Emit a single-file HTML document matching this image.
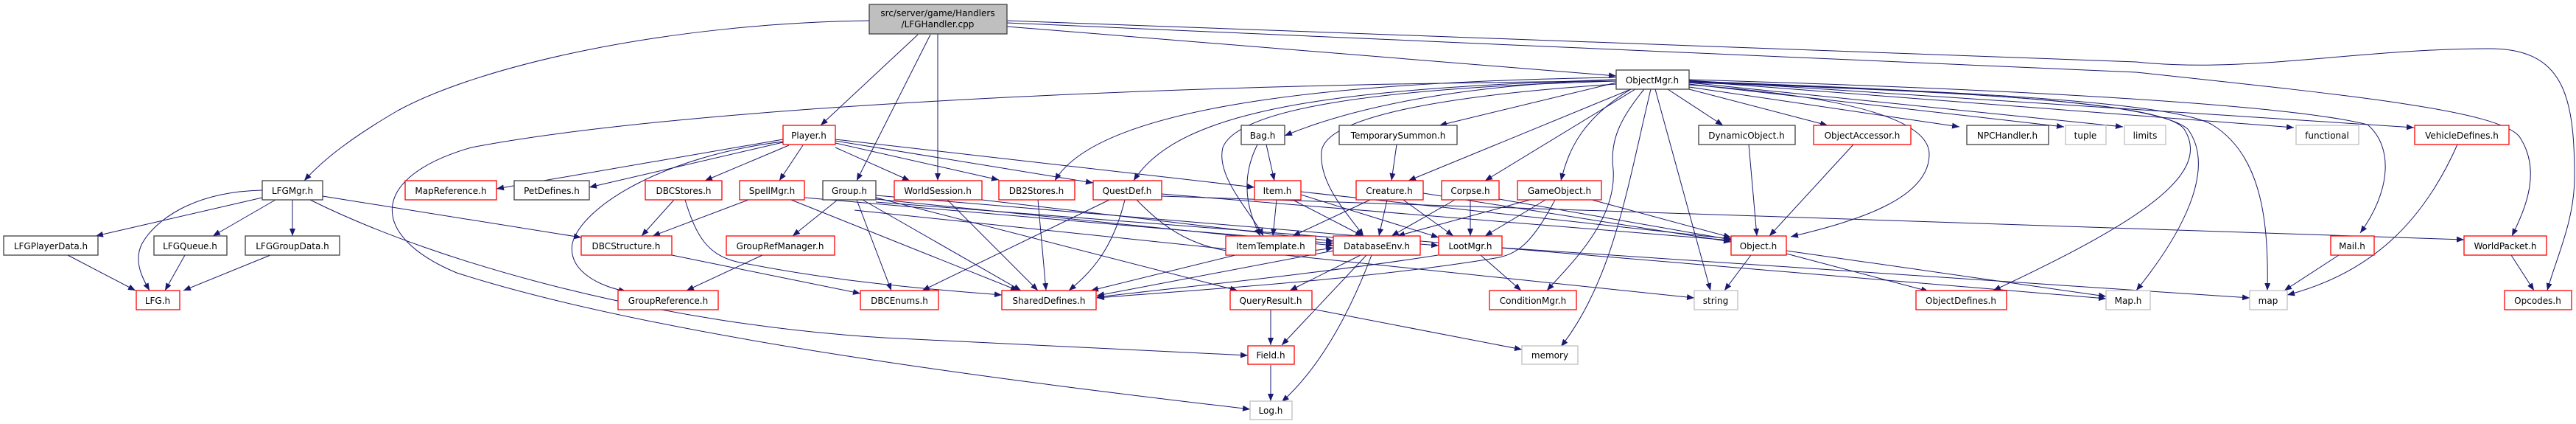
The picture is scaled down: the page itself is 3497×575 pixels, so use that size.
<!DOCTYPE html>
<html><head><meta charset="utf-8"><style>
html,body{margin:0;padding:0;background:#fff;}
svg{display:block;}
text{font-family:"DejaVu Sans","Liberation Sans",sans-serif;font-size:12px;fill:#000;text-anchor:middle;}
.k{fill:#fff;stroke:#404040;stroke-width:1.3;}
.r{fill:#fff;stroke:#ff0000;stroke-width:1.3;}
.g{fill:#fff;stroke:#bfbfbf;stroke-width:1.3;}
.e{fill:none;stroke:#191970;stroke-width:1;marker-end:url(#a);}
</style></head><body>
<svg width="3497" height="575" viewBox="0 0 3497 575" xmlns="http://www.w3.org/2000/svg">
<defs><marker id="a" markerUnits="userSpaceOnUse" markerWidth="11" markerHeight="8" refX="10" refY="4" orient="auto"><path d="M0,0 L10,4 L0,8 z" fill="#191970"/></marker></defs>

<!-- edges -->
<g>
<!-- root -->
<path class="e" d="M1180,28 C900,32 650,90 540,150 C480,185 440,215 413,245"/>
<path class="e" d="M1246,47 L1114,170"/>
<path class="e" d="M1263,47 L1163,245"/>
<path class="e" d="M1273,46 L1273,245"/>
<path class="e" d="M1367,36 L2194,103"/>
<path class="e" d="M1367,31 L2900,98 C3200,130 3390,150 3420,185 C3450,230 3430,280 3410,320"/>
<path class="e" d="M1367,28 L2900,84 C3050,100 3200,66 3380,66 C3480,66 3495,130 3495,240 C3495,300 3470,350 3458,394"/>
<!-- LFGMgr -->
<path class="e" d="M356,268 L130,320"/>
<path class="e" d="M374,271 L289,320"/>
<path class="e" d="M397,271 L397,320"/>
<path class="e" d="M356,258 C260,260 210,300 193,330 C180,355 195,380 203,394"/>
<path class="e" d="M438,266 L789,322"/>
<path class="e" d="M421,271 C600,360 900,440 1200,458 L1694,482"/>
<path class="e" d="M92,346 L184,394"/>
<path class="e" d="M251,346 L224,394"/>
<path class="e" d="M367,346 L249,394"/>
<!-- Player -->
<path class="e" d="M1063,189 L674,256"/>
<path class="e" d="M1063,193 L800,254"/>
<path class="e" d="M1071,197 L957,245"/>
<path class="e" d="M1090,197 L1058,245"/>
<path class="e" d="M1063,192 C900,212 790,280 777,330 C770,370 820,390 850,395"/>
<path class="e" d="M1134,200 L1235,245"/>
<path class="e" d="M1134,194 L1356,244"/>
<path class="e" d="M1134,191 L1484,248"/>
<path class="e" d="M1134,189 L1703,254"/>
<!-- DBCStores / SpellMgr / Group -->
<path class="e" d="M915,271 L871,320"/>
<path class="e" d="M930,271 C945,320 960,345 1000,355 C1100,375 1200,388 1360,400"/>
<path class="e" d="M1016,271 L886,320"/>
<path class="e" d="M1074,271 L1382,394"/>
<path class="e" d="M1092,268 L1810,330"/>
<path class="e" d="M912,346 L1168,398"/>
<path class="e" d="M1035,346 L932,394"/>
<path class="e" d="M1137,271 L1076,320"/>
<path class="e" d="M1163,271 L1210,394"/>
<path class="e" d="M1171,271 L1386,394"/>
<path class="e" d="M1189,268 L1680,394"/>
<path class="e" d="M1189,270 L1810,333"/>
<path class="e" d="M1189,274 L1953,333"/>
<path class="e" d="M1160,285 L2300,404"/>
<path class="e" d="M1189,265 L2859,405"/>
<!-- WorldSession / DB2Stores / QuestDef -->
<path class="e" d="M1286,271 L1409,394"/>
<path class="e" d="M1333,271 L1810,327"/>
<path class="e" d="M1409,271 L1420,394"/>
<path class="e" d="M1506,271 L1252,394"/>
<path class="e" d="M1527,271 C1510,340 1480,370 1451,394"/>
<path class="e" d="M1543,271 C1600,330 1660,360 1810,336"/>
<path class="e" d="M1577,263 L2350,326"/>
<path class="e" d="M1577,266 L3345,325"/>
<!-- Bag/Item/ItemTemplate -->
<path class="e" d="M1719,196 L1730,245"/>
<path class="e" d="M1707,196 C1690,230 1685,270 1711,320"/>
<path class="e" d="M1733,271 L1728,320"/>
<path class="e" d="M1755,271 L1850,320"/>
<path class="e" d="M1766,264 L1953,322"/>
<path class="e" d="M1766,260 L2350,324"/>
<path class="e" d="M1677,346 L1481,394"/>
<!-- DatabaseEnv / LootMgr / QueryResult / Field -->
<path class="e" d="M1847,346 L1751,394"/>
<path class="e" d="M1855,346 L1740,468"/>
<path class="e" d="M1862,346 C1830,430 1790,500 1740,545"/>
<path class="e" d="M1810,340 L1489,401"/>
<path class="e" d="M2010,346 L2065,394"/>
<path class="e" d="M1952,346 C1800,370 1600,390 1489,403"/>
<path class="e" d="M2039,336 L3054,404"/>
<path class="e" d="M1725,420 L1725,468"/>
<path class="e" d="M1781,419 L2066,474"/>
<path class="e" d="M1725,495 L1725,544"/>
<!-- Creature / TS / Corpse / GameObject -->
<path class="e" d="M1896,196 L1889,245"/>
<path class="e" d="M1860,271 L1755,320"/>
<path class="e" d="M1883,271 L1872,320"/>
<path class="e" d="M1905,271 L1973,320"/>
<path class="e" d="M1932,262 L2350,328"/>
<path class="e" d="M1975,271 L1889,320"/>
<path class="e" d="M1996,271 L1996,320"/>
<path class="e" d="M2035,270 L2350,325"/>
<path class="e" d="M2077,271 L1897,320"/>
<path class="e" d="M2098,271 L2016,320"/>
<path class="e" d="M2111,271 C2080,330 2060,345 2030,350 C1850,380 1600,395 1489,404"/>
<path class="e" d="M2161,271 L2350,322"/>
<!-- ObjectMgr -->
<path class="e" d="M2194,108 C2000,115 1850,140 1744,184"/>
<path class="e" d="M2194,112 L1954,170"/>
<path class="e" d="M2214,121 L1912,245"/>
<path class="e" d="M2220,121 L2016,245"/>
<path class="e" d="M2214,121 C2150,160 2130,200 2119,245"/>
<path class="e" d="M2232,121 C2200,160 2185,190 2190,230 C2195,300 2130,360 2100,394"/>
<path class="e" d="M2241,121 C2210,250 2190,380 2119,470"/>
<path class="e" d="M2247,121 L2322,394"/>
<path class="e" d="M2264,121 L2339,170"/>
<path class="e" d="M2293,121 L2481,170"/>
<path class="e" d="M2293,118 L2660,172"/>
<path class="e" d="M2293,114 L2802,172"/>
<path class="e" d="M2293,112 L2882,172"/>
<path class="e" d="M2293,110 L3114,173"/>
<path class="e" d="M2293,109 L3277,173"/>
<path class="e" d="M2293,108 C2700,120 3100,140 3214,169 C3250,200 3245,260 3204,316"/>
<path class="e" d="M2293,110 C2700,125 2950,140 3003,169 C3070,210 3080,300 3078,394"/>
<path class="e" d="M2293,111 C2700,125 2930,140 2970,175 C3010,230 2960,320 2900,394"/>
<path class="e" d="M2293,112 C2700,125 2940,140 2965,175 C3000,230 2930,290 2706,394"/>
<path class="e" d="M2293,115 C2500,130 2620,160 2619,210 C2618,270 2520,300 2431,321"/>
<path class="e" d="M2194,105 C1900,110 1500,130 1432,245"/>
<path class="e" d="M2194,108 C1800,120 1600,150 1539,245"/>
<path class="e" d="M2194,110 C1850,120 1680,150 1660,200 C1650,240 1700,290 1715,320"/>
<path class="e" d="M2194,114 C1950,130 1800,160 1794,205 C1790,250 1830,290 1851,320"/>
<path class="e" d="M2194,110 C1500,115 900,150 640,200 C500,240 500,320 620,370 C900,460 1400,520 1697,555"/>
<!-- Object side -->
<path class="e" d="M2374,196 L2385,320"/>
<path class="e" d="M2516,196 L2402,320"/>
<path class="e" d="M2377,346 L2341,394"/>
<path class="e" d="M2425,344 L2618,395"/>
<path class="e" d="M2425,340 L2859,402"/>
<path class="e" d="M3336,196 C3290,300 3220,370 3105,400"/>
<path class="e" d="M3175,346 L3101,394"/>
<path class="e" d="M3409,346 L3440,394"/>
</g>

<!-- nodes -->
<rect x="1180" y="6" width="187" height="40" fill="#bfbfbf" stroke="#404040" stroke-width="1.3"/>
<text x="1273" y="22">src/server/game/Handlers</text><text x="1273" y="37">/LFGHandler.cpp</text>

<rect class="k" x="2194" y="95" width="99" height="26"/><text x="2243" y="113">ObjectMgr.h</text>

<rect class="r" x="1063" y="170" width="71" height="26"/><text x="1098" y="188">Player.h</text>
<rect class="k" x="1685" y="170" width="59" height="26"/><text x="1714" y="188">Bag.h</text>
<rect class="k" x="1818" y="170" width="160" height="26"/><text x="1898" y="188">TemporarySummon.h</text>
<rect class="k" x="2306" y="170" width="131" height="26"/><text x="2371" y="188">DynamicObject.h</text>
<rect class="r" x="2462" y="170" width="132" height="26"/><text x="2528" y="188">ObjectAccessor.h</text>
<rect class="k" x="2670" y="170" width="111" height="26"/><text x="2725" y="188">NPCHandler.h</text>
<rect class="g" x="2804" y="170" width="55" height="26"/><text x="2831" y="188">tuple</text>
<rect class="g" x="2884" y="170" width="56" height="26"/><text x="2912" y="188">limits</text>
<rect class="g" x="3117" y="170" width="85" height="26"/><text x="3159" y="188">functional</text>
<rect class="r" x="3278" y="170" width="128" height="26"/><text x="3342" y="188">VehicleDefines.h</text>

<rect class="k" x="356" y="245" width="82" height="26"/><text x="397" y="263">LFGMgr.h</text>
<rect class="r" x="550" y="245" width="124" height="26"/><text x="612" y="263">MapReference.h</text>
<rect class="k" x="698" y="245" width="102" height="26"/><text x="749" y="263">PetDefines.h</text>
<rect class="r" x="876" y="245" width="104" height="26"/><text x="928" y="263">DBCStores.h</text>
<rect class="r" x="1004" y="245" width="88" height="26"/><text x="1048" y="263">SpellMgr.h</text>
<rect class="k" x="1117" y="245" width="72" height="26"/><text x="1153" y="263">Group.h</text>
<rect class="r" x="1214" y="245" width="119" height="26"/><text x="1273" y="263">WorldSession.h</text>
<rect class="r" x="1356" y="245" width="103" height="26"/><text x="1407" y="263">DB2Stores.h</text>
<rect class="r" x="1484" y="245" width="93" height="26"/><text x="1530" y="263">QuestDef.h</text>
<rect class="r" x="1703" y="245" width="63" height="26"/><text x="1734" y="263">Item.h</text>
<rect class="r" x="1841" y="245" width="91" height="26"/><text x="1886" y="263">Creature.h</text>
<rect class="r" x="1957" y="245" width="78" height="26"/><text x="1996" y="263">Corpse.h</text>
<rect class="r" x="2060" y="245" width="114" height="26"/><text x="2117" y="263">GameObject.h</text>

<rect class="k" x="5" y="320" width="128" height="26"/><text x="69" y="338">LFGPlayerData.h</text>
<rect class="k" x="209" y="320" width="99" height="26"/><text x="258" y="338">LFGQueue.h</text>
<rect class="k" x="333" y="320" width="128" height="26"/><text x="397" y="338">LFGGroupData.h</text>
<rect class="r" x="789" y="320" width="123" height="26"/><text x="850" y="338">DBCStructure.h</text>
<rect class="r" x="986" y="320" width="147" height="26"/><text x="1059" y="338">GroupRefManager.h</text>
<rect class="r" x="1664" y="320" width="122" height="26"/><text x="1725" y="338">ItemTemplate.h</text>
<rect class="r" x="1810" y="320" width="118" height="26"/><text x="1869" y="338">DatabaseEnv.h</text>
<rect class="r" x="1953" y="320" width="86" height="26"/><text x="1996" y="338">LootMgr.h</text>
<rect class="r" x="2350" y="320" width="75" height="26"/><text x="2387" y="338">Object.h</text>
<rect class="r" x="3164" y="320" width="59" height="26"/><text x="3193" y="338">Mail.h</text>
<rect class="r" x="3345" y="320" width="112" height="26"/><text x="3401" y="338">WorldPacket.h</text>

<rect class="r" x="185" y="394" width="59" height="26"/><text x="214" y="412">LFG.h</text>
<rect class="r" x="839" y="394" width="136" height="26"/><text x="907" y="412">GroupReference.h</text>
<rect class="r" x="1168" y="394" width="106" height="26"/><text x="1221" y="412">DBCEnums.h</text>
<rect class="r" x="1360" y="394" width="128" height="26"/><text x="1424" y="412">SharedDefines.h</text>
<rect class="r" x="1670" y="394" width="111" height="26"/><text x="1725" y="412">QueryResult.h</text>
<rect class="r" x="2022" y="394" width="118" height="26"/><text x="2081" y="412">ConditionMgr.h</text>
<rect class="g" x="2300" y="394" width="59" height="26"/><text x="2329" y="412">string</text>
<rect class="r" x="2601" y="394" width="123" height="26"/><text x="2662" y="412">ObjectDefines.h</text>
<rect class="g" x="2859" y="394" width="60" height="26"/><text x="2889" y="412">Map.h</text>
<rect class="g" x="3054" y="394" width="51" height="26"/><text x="3079" y="412">map</text>
<rect class="r" x="3400" y="394" width="91" height="26"/><text x="3445" y="412">Opcodes.h</text>

<rect class="r" x="1694" y="469" width="63" height="25"/><text x="1725" y="486">Field.h</text>
<rect class="g" x="2066" y="469" width="76" height="25"/><text x="2104" y="486">memory</text>

<rect class="g" x="1697" y="544" width="57" height="25"/><text x="1725" y="561">Log.h</text>
</svg>
</body></html>
